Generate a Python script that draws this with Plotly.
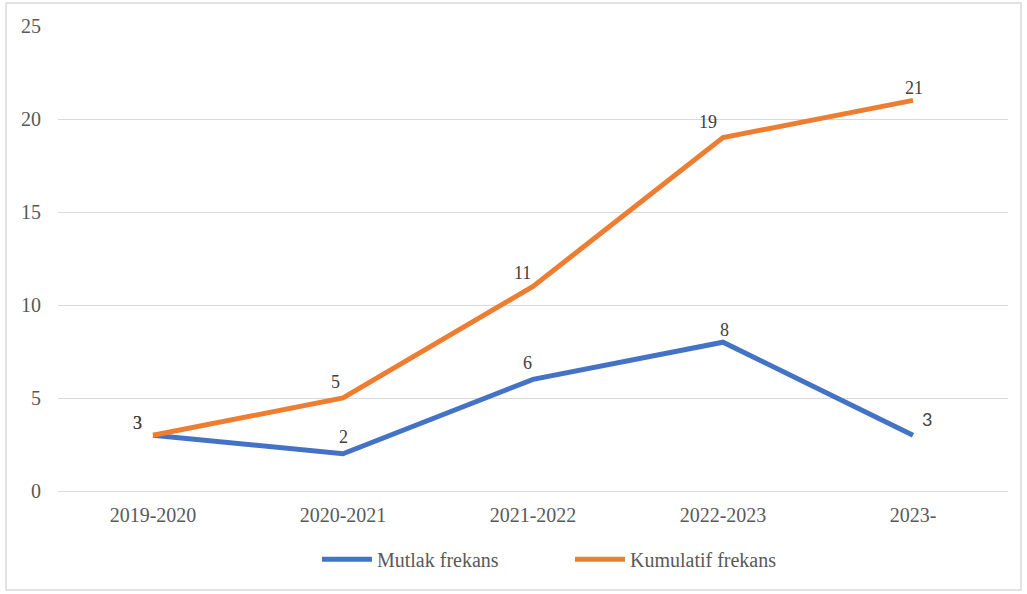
import plotly.graph_objects as go

categories = ["2019-2020", "2020-2021", "2021-2022", "2022-2023", "2023-"]
mutlak = [3, 2, 6, 8, 3]
kumulatif = [3, 5, 11, 19, 21]
y_ticks = [0, 5, 10, 15, 20, 25]

# label offsets in pixels (style only)
mutlak_shift = [(-16, 12), (0, 17), (-6, 16), (1, 12), (14, 16)]
kum_shift = [(-16, 12), (-8, 16), (-11, 13), (-15, 16), (1, 12)]

serif = "Liberation Serif, Times New Roman, serif"
sans = "Lato, Open Sans, sans-serif"

fig = go.Figure()
fig.add_trace(go.Scatter(
    x=categories, y=mutlak, mode="lines", name="Mutlak frekans",
    line=dict(color="#4472C4", width=5),
))
fig.add_trace(go.Scatter(
    x=categories, y=kumulatif, mode="lines", name="Kumulatif frekans",
    line=dict(color="#ED7D31", width=5),
))

annotations = []
for i, (c, v) in enumerate(zip(categories, mutlak)):
    fam = sans if i == len(categories) - 1 else serif
    annotations.append(dict(x=c, y=v, text=str(v), showarrow=False,
                            xshift=mutlak_shift[i][0], yshift=mutlak_shift[i][1],
                            font=dict(family=fam, size=18, color="#404040")))
for i, (c, v) in enumerate(zip(categories, kumulatif)):
    annotations.append(dict(x=c, y=v, text=str(v), showarrow=False,
                            xshift=kum_shift[i][0], yshift=kum_shift[i][1],
                            font=dict(family=serif, size=18, color="#404040")))

tick_font = dict(family=serif, size=20, color="#595959")

fig.update_layout(
    width=1027, height=594,
    margin=dict(l=58, r=19, t=26, b=103),
    paper_bgcolor="white", plot_bgcolor="white",
    showlegend=True,
    annotations=annotations,
    legend=dict(orientation="h", x=0.2726, xanchor="left", y=-0.147, yanchor="middle",
                font=dict(family=serif, size=20, color="#595959"),
                itemwidth=50, entrywidth=188, entrywidthmode="pixels",
                traceorder="normal"),
    xaxis=dict(range=[-0.5, 4.5], showgrid=False, showline=False, zeroline=False,
               tickfont=tick_font, ticks="", ticklabelstandoff=10),
    yaxis=dict(range=[0, 25], tickvals=y_ticks, showgrid=True, gridcolor="#d9d9d9", gridwidth=1,
               zeroline=True, zerolinecolor="#d9d9d9", zerolinewidth=1, showline=False,
               tickfont=tick_font, ticks="", ticklabelstandoff=16),
    shapes=[dict(type="rect", xref="paper", yref="paper",
                 x0=-0.0547, x1=1.0137, y0=-0.2129, y1=1.0495,
                 line=dict(color="#d9d9d9", width=1.5), layer="below")],
)

fig.write_html("out.html", config={"displayModeBar": False},
               post_script="document.body.style.margin='0px';")
